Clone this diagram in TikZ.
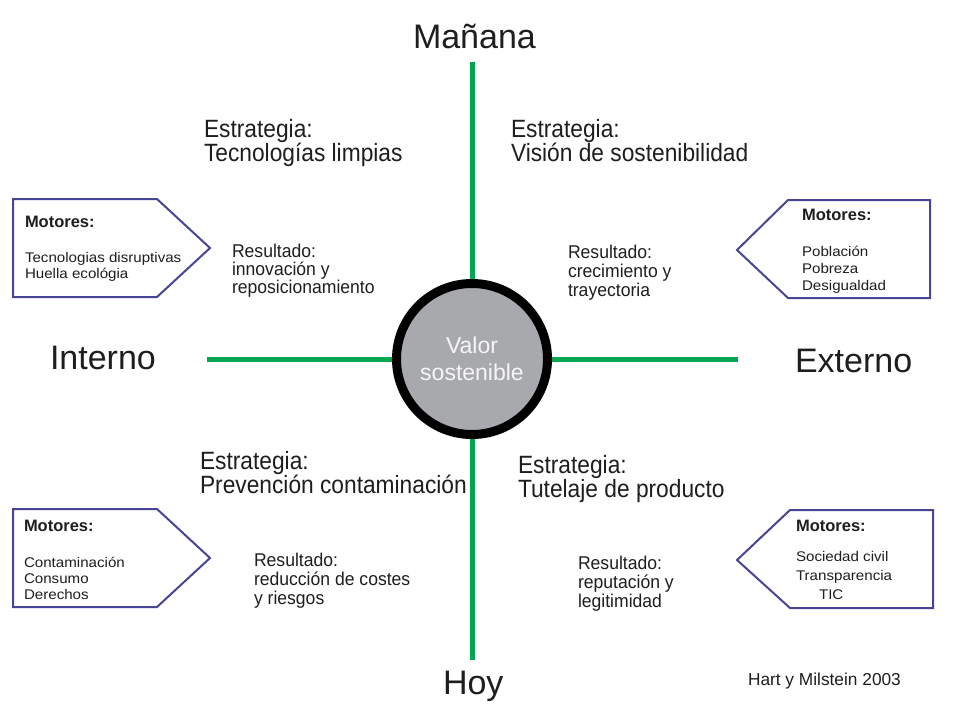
\documentclass[tikz,border=0pt]{standalone}
\usepackage{fontspec}
\setmainfont{Liberation Sans}
\newfontfamily\widefont[FakeStretch=1.08]{Liberation Sans}
\newfontfamily\narrowfont[FakeStretch=0.91]{Liberation Sans}
\newfontfamily\resfont[FakeStretch=0.95]{Liberation Sans}
\definecolor{axisgreen}{HTML}{00A651}
\definecolor{boxc}{RGB}{72,68,150}
\definecolor{circfill}{HTML}{A7A9AC}
\definecolor{circtext}{HTML}{F6F6F6}
\definecolor{txt}{HTML}{1E1E1E}
\begin{document}
\begin{tikzpicture}[x=1pt,y=-1pt,
  every node/.style={inner sep=0pt, outer sep=0pt, text=txt},
  big/.style={font=\fontsize{34}{40}\selectfont, anchor=base west},
  strat/.style={font=\narrowfont\fontsize{25}{28}\selectfont, anchor=base west},
  res/.style={font=\resfont\fontsize{18.5}{20}\selectfont, anchor=base west},
  mot/.style={font=\bfseries\fontsize{16.5}{18}\selectfont, anchor=base west},
  item/.style={font=\widefont\fontsize{14}{15}\selectfont, anchor=base west},
  motorbox/.style={draw=boxc, line width=2pt, fill=white, line join=miter},
  axisline/.style={draw=axisgreen, line width=5pt}]
\useasboundingbox[fill=white] (0,0) rectangle (960,720);

% axes
\coordinate (ntop) at (472,62);
\coordinate (nbot) at (472,660);
\coordinate (nleft) at (207,359);
\coordinate (nright) at (738,359);
\coordinate (ncen) at (472,359);
\draw[axisline] (ntop) -- (ncen) -- (nbot);
\draw[axisline] (nleft) -- (ncen) -- (nright);

% centre circle
\node[circle, draw=black, line width=9pt, fill=circfill, minimum size=151pt,
      align=center, text=circtext, font=\fontsize{23}{27}\selectfont] (valor) at (ncen)
      {Valor\\sostenible};

% axis labels
\node[big] (manana) at (413,48) {Mañana};
\node[big] (hoy) at (443,694) {Hoy};
\node[big] (interno) at (50,369) {Interno};
\node[big] (externo) at (795,372) {Externo};

% motor boxes
\draw[motorbox] (13,199) -- (157,199) -- (210,248) -- (157,297) -- (13,297) -- cycle;
\draw[motorbox] (930,200) -- (788,200) -- (737,250) -- (788,298) -- (930,298) -- cycle;
\draw[motorbox] (13,509) -- (157,509) -- (210,558) -- (157,607) -- (13,607) -- cycle;
\draw[motorbox] (933,510) -- (790,510) -- (737,560) -- (790,608) -- (933,608) -- cycle;

% motor texts
\node[mot] (mTL) at (25,227) {Motores:};
\node[item] (mTL1) at (25,262) {Tecnologias disruptivas};
\node[item] (mTL2) at (25,278) {Huella ecológia};

\node[mot] (mTR) at (802,220) {Motores:};
\node[item] (mTR1) at (802,256) {Población};
\node[item] (mTR2) at (802,273) {Pobreza};
\node[item] (mTR3) at (802,290) {Desigualdad};

\node[mot] (mBL) at (24,531) {Motores:};
\node[item] (mBL1) at (24,567) {Contaminación};
\node[item] (mBL2) at (24,583) {Consumo};
\node[item] (mBL3) at (24,599) {Derechos};

\node[mot] (mBR) at (796,531) {Motores:};
\node[item] (mBR1) at (796,561) {Sociedad civil};
\node[item] (mBR2) at (796,580) {Transparencia};
\node[item] (mBR3) at (819,599) {TIC};

% strategies
\node[strat] (sTL1) at (204,137) {Estrategia:};
\node[strat] (sTL2) at (204,161) {Tecnologías limpias};
\node[strat] (sTR1) at (511,137) {Estrategia:};
\node[strat] (sTR2) at (511,161) {Visión de sostenibilidad};
\node[strat] (sBL1) at (200,469) {Estrategia:};
\node[strat] (sBL2) at (200,493) {Prevención contaminación};
\node[strat] (sBR1) at (518,473) {Estrategia:};
\node[strat] (sBR2) at (518,497) {Tutelaje de producto};

% results
\node[res] (rTL1) at (232,257) {Resultado:};
\node[res] (rTL2) at (232,275) {innovación y};
\node[res] (rTL3) at (232,293) {reposicionamiento};
\node[res] (rTR1) at (568,258) {Resultado:};
\node[res] (rTR2) at (568,277) {crecimiento y};
\node[res] (rTR3) at (568,296) {trayectoria};
\node[res] (rBL1) at (254,566) {Resultado:};
\node[res] (rBL2) at (254,585) {reducción de costes};
\node[res] (rBL3) at (254,604) {y riesgos};
\node[res] (rBR1) at (578,569) {Resultado:};
\node[res] (rBR2) at (578,588) {reputación y};
\node[res] (rBR3) at (578,607) {legitimidad};

% source
\node[anchor=base west, font=\fontsize{17.3}{19}\selectfont] (src) at (748,685) {Hart y Milstein 2003};
\end{tikzpicture}
\end{document}
